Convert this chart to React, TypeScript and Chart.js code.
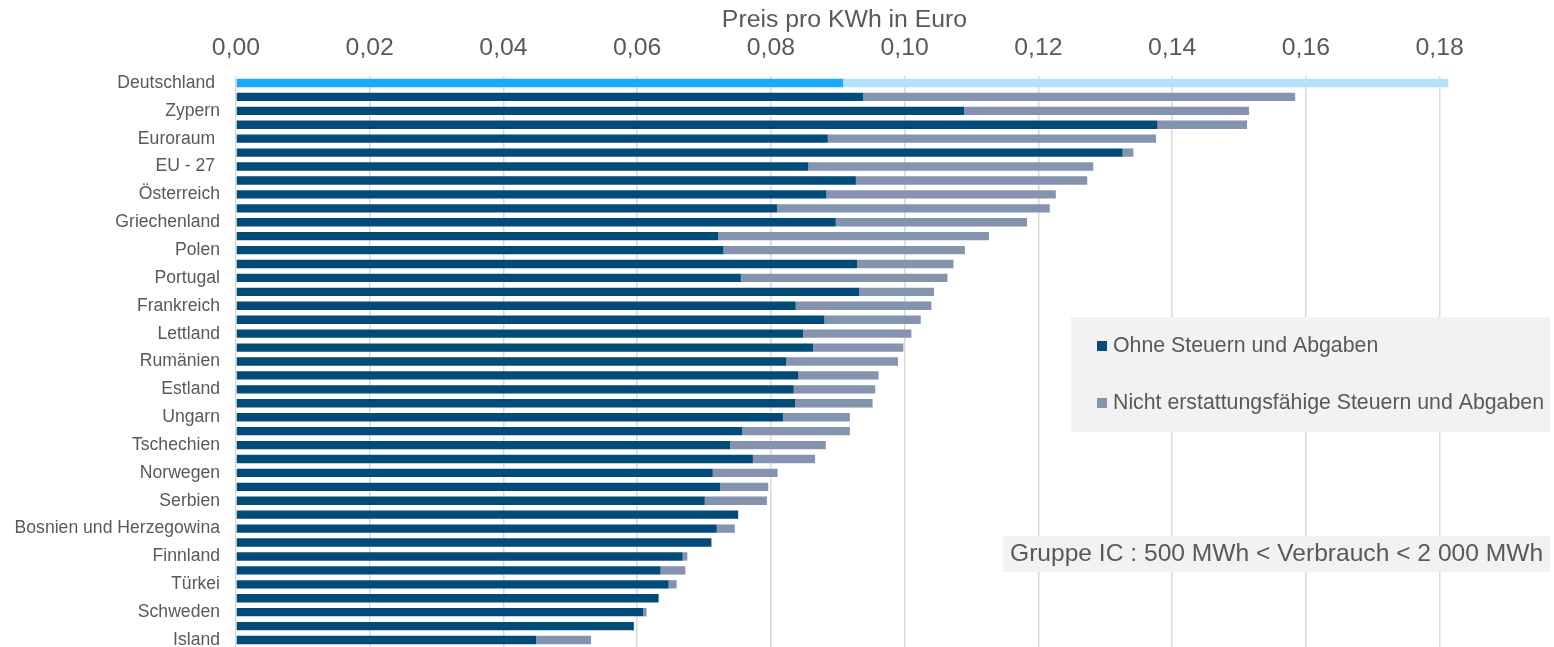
import React, { useEffect, useRef } from "react";
import { Chart, registerables } from "chart.js";

Chart.register(...registerables);

const categories: string[] = [
  "Deutschland ", "Italien", "Zypern", "Malta", "Euroraum ", "Irland", "EU - 27 ", "Belgien",
  "Österreich", "Slowakei", "Griechenland", "Litauen", "Polen", "Kroatien", "Portugal", "Spanien",
  "Frankreich", "Niederlande", "Lettland", "Dänemark", "Rumänien", "Slowenien", "Estland", "Luxemburg",
  "Ungarn", "Bulgarien", "Tschechien", "Montenegro", "Norwegen", "Nordmazedonien", "Serbien", "Albanien",
  "Bosnien und Herzegowina", "Georgien", "Finnland", "Moldau", "Türkei", "Ukraine", "Schweden", "Kosovo",
  "Island",
];

const ohneSteuern: number[] = [
  0.0908, 0.0938, 0.1089, 0.1378, 0.0885, 0.1326, 0.0856, 0.0927,
  0.0883, 0.0809, 0.0897, 0.0721, 0.0729, 0.0929, 0.0755, 0.0932,
  0.0837, 0.0880, 0.0848, 0.0863, 0.0823, 0.0841, 0.0834, 0.0836,
  0.0818, 0.0757, 0.0739, 0.0773, 0.0713, 0.0724, 0.0701, 0.0751,
  0.0719, 0.0711, 0.0668, 0.0635, 0.0647, 0.0632, 0.0609, 0.0595,
  0.0449,
];

const gesamt: number[] = [
  0.1813, 0.1584, 0.1515, 0.1512, 0.1376, 0.1342, 0.1282, 0.1273,
  0.1226, 0.1217, 0.1183, 0.1126, 0.1090, 0.1073, 0.1064, 0.1044,
  0.1040, 0.1024, 0.1010, 0.0998, 0.0990, 0.0961, 0.0956, 0.0952,
  0.0918, 0.0918, 0.0882, 0.0866, 0.0810, 0.0796, 0.0794, 0.0751,
  0.0746, 0.0711, 0.0675, 0.0672, 0.0659, 0.0632, 0.0614, 0.0595,
  0.0531,
];

const steuern: number[] = gesamt.map((t, i) => Math.max(0, +(t - ohneSteuern[i]).toFixed(4)));

const xTickValues: number[] = [0, 0.02, 0.04, 0.06, 0.08, 0.1, 0.12, 0.14, 0.16, 0.18];
const xMax = 0.182;

const legendLabels = ["Ohne Steuern und Abgaben", "Nicht erstattungsfähige Steuern und Abgaben"];
const noteText = "Gruppe IC : 500 MWh < Verbrauch < 2 000 MWh";

const DARK = "#004B78";
const GRAY = "#8494AE";
const DE_DARK = "#1AABFF";
const DE_LIGHT = "#B3E2FC";
const TEXT = "#595959";
const FONT = "'Liberation Sans', Arial, sans-serif";

const overlayPlugin = {
  id: "overlay",
  afterDraw(chart: any) {
    const ctx = chart.ctx as CanvasRenderingContext2D;
    ctx.save();
    // legend box
    ctx.fillStyle = "#F2F2F2";
    ctx.fillRect(1071, 317, 479, 115);
    const items = [
      { label: chart.data.datasets[0].label, color: DARK, y: 346 },
      { label: chart.data.datasets[1].label, color: GRAY, y: 403 },
    ];
    ctx.font = `21.3px ${FONT}`;
    ctx.textBaseline = "middle";
    ctx.textAlign = "left";
    for (const it of items) {
      ctx.fillStyle = it.color;
      ctx.fillRect(1097, it.y - 5, 10, 10);
      ctx.fillStyle = TEXT;
      ctx.fillText(it.label, 1113, it.y);
    }
    // note box
    ctx.fillStyle = "#F2F2F2";
    ctx.fillRect(1003, 536, 547, 36);
    ctx.font = `24.6px ${FONT}`;
    ctx.fillStyle = TEXT;
    ctx.fillText(noteText, 1010, 554);
    ctx.restore();
  },
};

export default function App() {
  const canvasRef = useRef<HTMLCanvasElement | null>(null);

  useEffect(() => {
    document.body.style.margin = "0";
    const canvas = canvasRef.current;
    if (!canvas) return;
    const chart = new Chart(canvas, {
      type: "bar",
      data: {
        labels: categories,
        datasets: [
          {
            label: legendLabels[0],
            data: ohneSteuern,
            backgroundColor: categories.map((_, i) => (i === 0 ? DE_DARK : DARK)),
            barPercentage: 0.6,
            categoryPercentage: 1.0,
          },
          {
            label: legendLabels[1],
            data: steuern,
            backgroundColor: categories.map((_, i) => (i === 0 ? DE_LIGHT : GRAY)),
            barPercentage: 0.6,
            categoryPercentage: 1.0,
          },
        ],
      },
      options: {
        indexAxis: "y",
        responsive: false,
        animation: false,
        layout: { padding: { left: 0, right: 101, top: 0, bottom: 0 } },
        plugins: {
          legend: { display: false },
          tooltip: { enabled: true },
        },
        scales: {
          x: {
            position: "top",
            stacked: true,
            min: 0,
            max: xMax,
            afterBuildTicks: (scale: any) => {
              scale.ticks = xTickValues.map((v) => ({ value: v }));
            },
            afterFit: (scale: any) => {
              scale.height = 76;
            },
            ticks: {
              color: TEXT,
              font: { size: 24.8, family: FONT },
              padding: 13,
              callback: (v: any) => Number(v).toFixed(2).replace(".", ","),
            },
            grid: { color: "#D9D9D9", drawTicks: false, lineWidth: 1.5 },
            border: { display: false },
            title: {
              display: true,
              text: "Preis pro KWh in Euro",
              color: TEXT,
              font: { size: 24.8, family: FONT },
              padding: { top: 5, bottom: 0 },
            },
          },
          y: {
            stacked: true,
            afterFit: (scale: any) => {
              scale.width = 236;
              scale.paddingTop = 0;
              scale.paddingBottom = 0;
            },
            ticks: {
              autoSkip: false,
              color: TEXT,
              font: { size: 17.6, family: FONT },
              padding: 16,
              callback: function (this: any, _v: any, i: number) {
                return i % 2 === 0 ? categories[i] : "";
              },
            },
            grid: { display: false, drawTicks: false },
            border: { display: false },
          },
        },
      },
      plugins: [overlayPlugin],
    } as any);
    return () => chart.destroy();
  }, []);

  return (
    <div style={{ width: 1554, height: 647 }}>
      <canvas ref={canvasRef} width={1554} height={647} style={{ display: "block" }} />
    </div>
  );
}
